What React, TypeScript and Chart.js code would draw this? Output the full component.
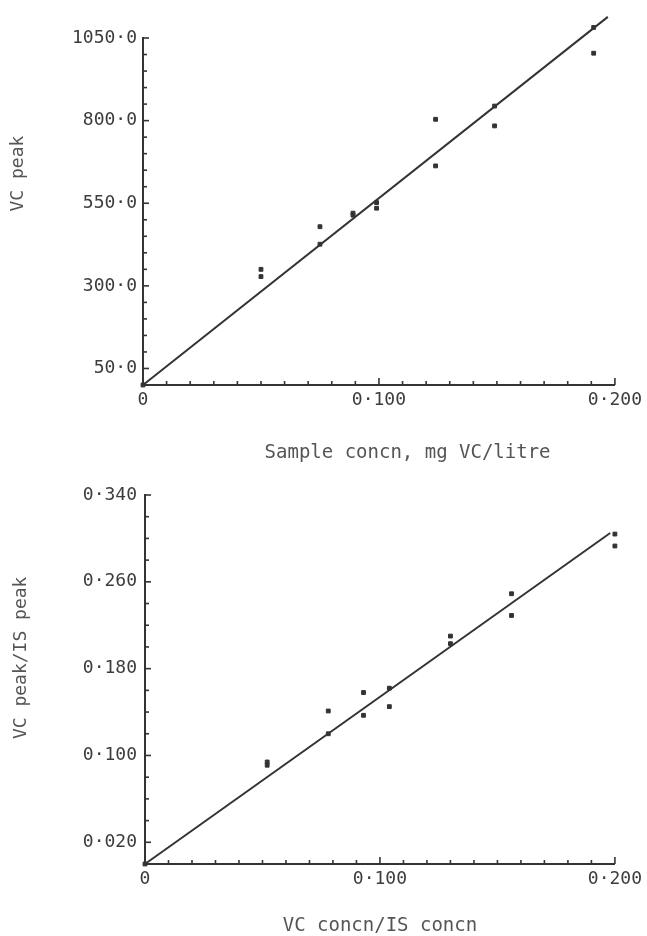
import React, { useEffect, useRef } from "react";
import { Chart, registerables } from "chart.js";

Chart.register(...registerables);

// ---- Top panel data ----
const TOP_X = [0, 0.05, 0.05, 0.075, 0.075, 0.089, 0.089, 0.099, 0.099, 0.124, 0.124, 0.149, 0.149, 0.191, 0.191];
const TOP_Y = [0, 350, 328, 479, 426, 520, 514, 552, 535, 804, 663, 784, 844, 1082, 1004];
const TOP_FIT_X = [0, 0.197];
const TOP_FIT_Y = [0, 1114];
const TOP_Y_LABELS = [50, 300, 550, 800, 1050];

// ---- Bottom panel data ----
const BOT_X = [0, 0.052, 0.052, 0.078, 0.078, 0.093, 0.093, 0.104, 0.104, 0.13, 0.13, 0.156, 0.156, 0.2, 0.2];
const BOT_Y = [0, 0.094, 0.091, 0.141, 0.12, 0.158, 0.137, 0.162, 0.145, 0.21, 0.203, 0.249, 0.229, 0.304, 0.293];
const BOT_FIT_X = [0, 0.198];
const BOT_FIT_Y = [0, 0.305];
const BOT_Y_LABELS = [0.02, 0.1, 0.18, 0.26, 0.34];

const X_LABELS = [0, 0.1, 0.2];

const INK = "#363232";
const TEXT = "#3c3c3c";
const TITLE = "#555555";
const FONT = "'DejaVu Sans Mono', monospace";

const fmt = (v: number, d: number) => (v === 0 ? "0" : v.toFixed(d).replace(".", "\u00b7"));

const findLabel = (value: number, list: number[], d: number, tol: number) => {
  const hit = list.find((l) => Math.abs(l - value) < tol);
  return hit === undefined ? "" : fmt(hit, d);
};

// lets marks that sit just past the axis end (as in the original plot) still be drawn
const widenArea = {
  id: "widenArea",
  beforeDatasetsDraw(chart: any) {
    const a = chart.chartArea;
    chart.$savedArea = { top: a.top, right: a.right };
    a.top -= 30;
    a.right += 20;
  },
  afterDatasetsDraw(chart: any) {
    const a = chart.chartArea;
    if (chart.$savedArea) {
      a.top = chart.$savedArea.top;
      a.right = chart.$savedArea.right;
    }
  },
};

const inwardTicks = {
  id: "inwardTicks",
  afterDatasetsDraw(chart: any) {
    const { ctx, chartArea, scales } = chart;
    ctx.save();
    ctx.strokeStyle = INK;
    ctx.lineWidth = 1.6;
    const xs = scales.x;
    xs.ticks.forEach((t: any) => {
      const px = xs.getPixelForValue(t.value);
      const major = t.label !== "" && t.label !== undefined;
      const len = major ? 7 : 4;
      ctx.beginPath();
      ctx.moveTo(px, chartArea.bottom);
      ctx.lineTo(px, chartArea.bottom - len);
      ctx.stroke();
    });
    const ys = scales.y;
    ys.ticks.forEach((t: any) => {
      const py = ys.getPixelForValue(t.value);
      const major = t.label !== "" && t.label !== undefined;
      const len = major ? 6 : 4;
      ctx.beginPath();
      ctx.moveTo(chartArea.left, py);
      ctx.lineTo(chartArea.left + len, py);
      ctx.stroke();
    });
    ctx.restore();
  },
};

type PanelCfg = {
  xs: number[];
  ys: number[];
  fitX: number[];
  fitY: number[];
  yMax: number;
  yStep: number;
  yLabels: number[];
  yDigits: number;
  yTol: number;
  xTitle: string;
  yTitle: string;
  padTop: number;
  padRight: number;
  yWidth: number;
  xHeight: number;
  xTickPad: number;
  yTickPad: number;
  xTitlePadBottom: number;
  yTitlePadTop: number;
};

function makeConfig(p: PanelCfg): any {
  return {
    type: "scatter",
    data: {
      datasets: [
        {
          type: "line",
          data: p.fitX.map((x, i) => ({ x, y: p.fitY[i] })),
          borderColor: INK,
          borderWidth: 2,
          pointRadius: 0,
          fill: false,
          clip: false,
        },
        {
          type: "scatter",
          data: p.xs.map((x, i) => ({ x, y: p.ys[i] })),
          pointStyle: "rect",
          pointRadius: 2.7,
          backgroundColor: INK,
          borderColor: INK,
          borderWidth: 1,
          clip: false,
        },
      ],
    },
    options: {
      responsive: false,
      animation: false,
      devicePixelRatio: 1,
      layout: { padding: { top: p.padTop, right: p.padRight, left: 0, bottom: 0 } },
      plugins: { legend: { display: false }, tooltip: { enabled: false } },
      scales: {
        x: {
          type: "linear",
          min: 0,
          max: 0.2,
          afterFit: (s: any) => {
            s.height = p.xHeight;
          },
          ticks: {
            stepSize: 0.01,
            autoSkip: false,
            maxRotation: 0,
            padding: p.xTickPad,
            color: TEXT,
            font: { family: FONT, size: 18 },
            callback: (v: any) => findLabel(Number(v), X_LABELS, 3, 0.001),
          },
          grid: { display: false, drawTicks: false, tickLength: 0 },
          border: { display: true, color: INK, width: 2 },
          title: {
            display: true,
            text: p.xTitle,
            color: TITLE,
            font: { family: FONT, size: 19, lineHeight: 1 },
            padding: { top: 0, bottom: p.xTitlePadBottom },
          },
        },
        y: {
          type: "linear",
          min: 0,
          max: p.yMax,
          afterFit: (s: any) => {
            s.width = p.yWidth;
          },
          ticks: {
            stepSize: p.yStep,
            autoSkip: false,
            padding: p.yTickPad,
            color: TEXT,
            font: { family: FONT, size: 18 },
            callback: (v: any) => findLabel(Number(v), p.yLabels, p.yDigits, p.yTol),
          },
          grid: { display: false, drawTicks: false, tickLength: 0 },
          border: { display: true, color: INK, width: 2 },
          title: {
            display: true,
            text: p.yTitle,
            color: TITLE,
            font: { family: FONT, size: 18, lineHeight: 1 },
            padding: { top: p.yTitlePadTop, bottom: 0 },
          },
        },
      },
    },
    plugins: [widenArea, inwardTicks],
  };
}

const TOP_PANEL: PanelCfg = {
  xs: TOP_X,
  ys: TOP_Y,
  fitX: TOP_FIT_X,
  fitY: TOP_FIT_Y,
  yMax: 1050,
  yStep: 50,
  yLabels: TOP_Y_LABELS,
  yDigits: 1,
  yTol: 1,
  xTitle: "     Sample concn, mg VC/litre",
  yTitle: "       VC peak",
  padTop: 38,
  padRight: 31,
  yWidth: 143,
  xHeight: 83,
  xTickPad: 5,
  yTickPad: 6,
  xTitlePadBottom: 5,
  yTitlePadTop: 9,
};

const BOT_PANEL: PanelCfg = {
  xs: BOT_X,
  ys: BOT_Y,
  fitX: BOT_FIT_X,
  fitY: BOT_FIT_Y,
  yMax: 0.34,
  yStep: 0.02,
  yLabels: BOT_Y_LABELS,
  yDigits: 3,
  yTol: 0.001,
  xTitle: "VC concn/IS concn",
  yTitle: "    VC peak/IS peak",
  padTop: 27,
  padRight: 28,
  yWidth: 145,
  xHeight: 72,
  xTickPad: 5,
  yTickPad: 8,
  xTitlePadBottom: 0,
  yTitlePadTop: 12,
};

function Panel({ cfg, height }: { cfg: PanelCfg; height: number }) {
  const ref = useRef<HTMLCanvasElement | null>(null);
  useEffect(() => {
    if (!ref.current) return;
    const chart = new Chart(ref.current, makeConfig(cfg));
    return () => chart.destroy();
  }, [cfg]);
  return <canvas ref={ref} width={647} height={height} style={{ display: "block", width: 647, height }} />;
}

export default function App() {
  useEffect(() => {
    document.body.style.margin = "0";
    document.body.style.background = "#ffffff";
  }, []);
  return (
    <div style={{ width: 647, height: 936, background: "#fff" }}>
      <Panel cfg={TOP_PANEL} height={468} />
      <Panel cfg={BOT_PANEL} height={468} />
    </div>
  );
}
